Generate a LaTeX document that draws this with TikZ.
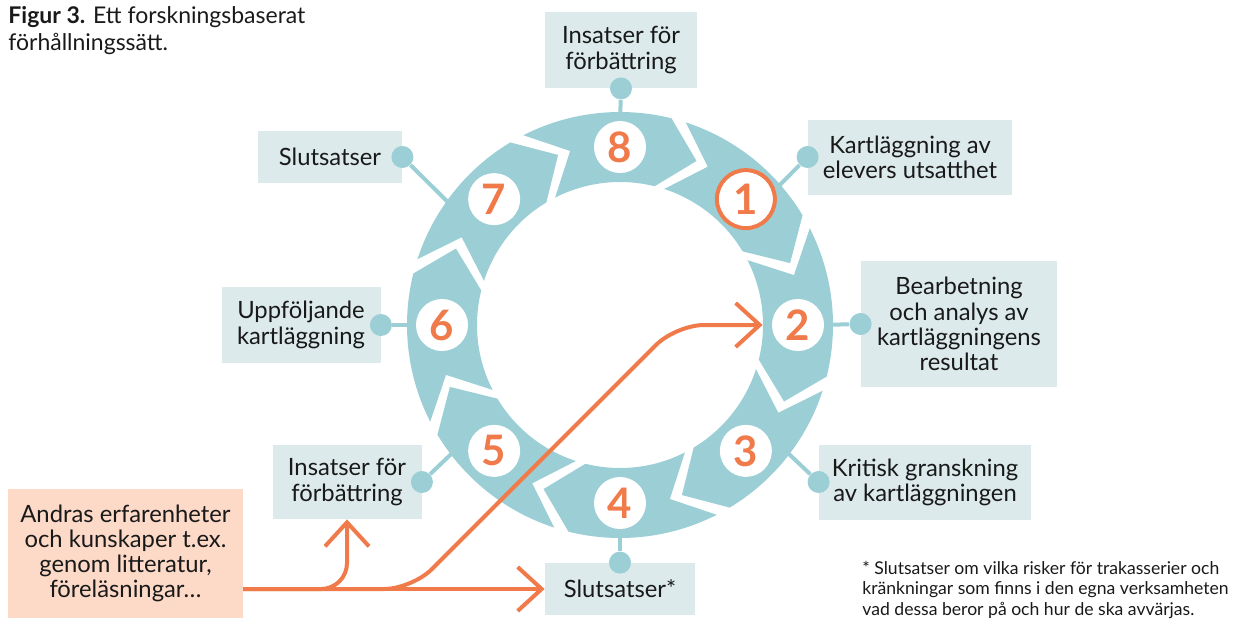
\documentclass[tikz,border=0pt]{standalone}
\usepackage{fontspec}
\setmainfont{Lato}
\usetikzlibrary{arrows.meta, positioning}
\definecolor{ringteal}{RGB}{155,207,213}
\definecolor{boxgrey}{RGB}{220,234,235}
\definecolor{markorange}{RGB}{240,122,74}
\definecolor{srcpeach}{RGB}{253,218,200}
\definecolor{inktext}{RGB}{25,25,25}

\begin{document}
\begin{tikzpicture}[x=0.5pt, y=0.5pt,
  stepbox/.style={fill=boxgrey, align=center, inner sep=0pt, text=inktext, font=\fontsize{11.9}{12.6}\selectfont},
  hubdot/.style={circle, fill=ringteal, inner sep=0pt, minimum size=11pt},
  link/.style={draw=ringteal, line width=2pt},
  numdisc/.style={circle, fill=white, inner sep=0pt, minimum size=26pt, text=markorange, font=\fontsize{21}{21}\selectfont\bfseries},
  flow/.style={draw=markorange, line width=2pt, -{Straight Barb[length=12pt, width=22pt]}}
]
  \useasboundingbox (0,0) rectangle (1236,618);

  % Title
  \node[anchor=north west, align=left, inner sep=0pt, text=inktext, font=\fontsize{11.5}{13.5}\selectfont] (title) at (8,612)
    {\textbf{Figur 3.} Ett forskningsbaserat\\förhållningssätt.};

  % Label boxes round the ring
  \node[stepbox, minimum width=76pt, minimum height=38pt] (b8) at (621,568) {Insatser för\\förbättring};
  \node[stepbox, minimum width=102pt, minimum height=37.5pt] (b1) at (910,461) {Kartläggning av\\elevers utsatthet};
  \node[stepbox, minimum width=98pt, minimum height=63pt] (b2) at (959,294) {Bearbetning\\och analys av\\kartläggningens\\resultat};
  \node[stepbox, minimum width=106pt, minimum height=37.5pt] (b3) at (925,136) {Kritisk granskning\\av kartläggningen};
  \node[stepbox, minimum width=75pt, minimum height=26pt] (b4) at (620,29) {Slutsatser*};
  \node[stepbox, minimum width=74.5pt, minimum height=37pt] (b5) at (347,136) {Insatser för\\förbättring};
  \node[stepbox, minimum width=79.5pt, minimum height=38pt] (b6) at (301,293) {Uppföljande\\kartläggning};
  \node[stepbox, minimum width=72pt, minimum height=26pt] (b7) at (330,461) {Slutsatser};

  % Source box
  \node[stepbox, fill=srcpeach, minimum width=117.5pt, minimum height=64.5pt] (src) at (125.5,64.5)
    {Andras erfarenheter\\och kunskaper t.ex.\\genom litteratur,\\föreläsningar…};

  % Ring points and connectors
  \begin{scope}[shift={(620,293)}]
    \foreach \a/\n in {90/8, 41/1, 0/2, -37/3, -90/4, 217/5, 180/6, 145/7}
      \coordinate (r\n) at (\a:200);
  \end{scope}
  \node[hubdot] (d8) at (b8.south) {};
  \node[hubdot] (d1) at (b1.west) {};
  \node[hubdot] (d2) at (b2.west) {};
  \node[hubdot] (d3) at (b3.west) {};
  \node[hubdot] (d4) at (b4.north) {};
  \node[hubdot] (d5) at (b5.east) {};
  \node[hubdot] (d6) at (b6.east) {};
  \node[hubdot] (d7) at (b7.east) {};
  \foreach \n in {1,...,8}
    \draw[link] (d\n) -- (r\n);

  % Ring of chevrons
  \begin{scope}[shift={(620,293)}]
    \foreach \a in {90,45,...,-225}
      \fill[ringteal] ({\a+27}:213) arc[start angle=\a+27, end angle=\a-14, radius=213]
        -- ({\a-25}:181) -- ({\a-14}:143)
        arc[start angle=\a-14, end angle=\a+27, radius=143] -- ({\a+16}:181) -- cycle;
    \foreach \a/\n in {90/8, 0/2, -45/3, -90/4, -135/5, 180/6, 135/7}
      \node[numdisc] (n\n) at (\a:178) {\n};
    \node[numdisc, draw=markorange, line width=2pt, minimum size=29pt] (n1) at (45:178) {1};
  \end{scope}

  % Input arrows
  \coordinate (srcout) at (243,29);
  \coordinate (bendA) at (412,29);
  \coordinate (bendB) at (676,293);
  \draw[flow] (srcout) -- (b4.west);
  \draw[flow, rounded corners=13pt] (srcout) -| (b5.south);
  \draw[flow, rounded corners=14pt, shorten >=4.5pt] (srcout) -- (bendA) -- (bendB) -- (n2.west);

  % Footnote
  \node[anchor=north west, align=left, inner sep=0pt, text=inktext, font=\fontsize{8.8}{10.1}\selectfont] (note) at (862,57)
    {* Slutsatser om vilka risker för trakasserier och\\kränkningar som finns i den egna verksamheten\\vad dessa beror på och hur de ska avvärjas.};
\end{tikzpicture}
\end{document}
